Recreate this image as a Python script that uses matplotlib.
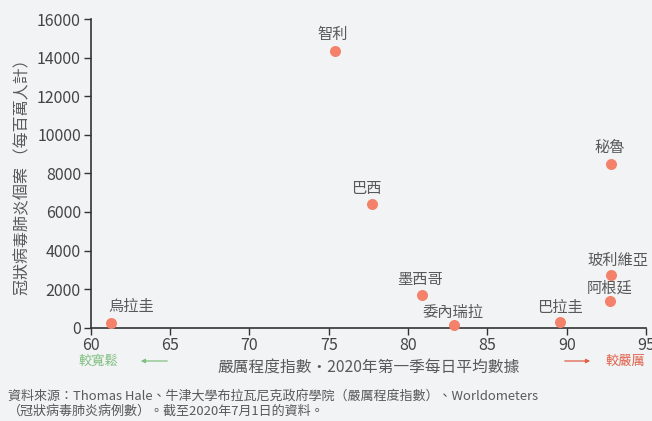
import matplotlib
matplotlib.use("Agg")
import matplotlib.pyplot as plt
from matplotlib.patches import FancyArrowPatch

plt.rcParams['font.family'] = ['Noto Sans CJK TC', 'DejaVu Sans']

# stringency index (Q1 2020 daily average) vs cases per million
countries = ['烏拉圭', '智利', '巴西', '墨西哥', '委內瑞拉', '巴拉圭', '玻利維亞', '阿根廷', '秘魯']
stringency = [61.3, 75.4, 77.7, 80.9, 82.9, 89.6, 92.8, 92.7, 92.8]
cases = [250, 14350, 6400, 1700, 150, 280, 2730, 1380, 8500]
# label offsets in pixels (dx, dy) from each dot
label_offsets = [(20, 16), (-2, 16), (-5, 16), (-2, 15), (-1, 12), (-1, 15), (7, 15), (0, 13), (-1, 16)]

x_ticks = [60, 65, 70, 75, 80, 85, 90, 95]
y_ticks = [0, 2000, 4000, 6000, 8000, 10000, 12000, 14000, 16000]

bg = '#f2f3f5'
dot_color = '#f4826a'
text_color = '#595959'
green = '#7fbf7f'
red = '#e0604a'

fig = plt.figure(figsize=(6.52, 4.21), dpi=100, facecolor=bg)
ax = fig.add_axes([0.139, 0.2216, 0.852, 0.733])
ax.set_facecolor(bg)

ax.scatter(stringency, cases, s=48, color=dot_color, zorder=3, clip_on=False)
for name, x, y, (dx, dy) in zip(countries, stringency, cases, label_offsets):
    ax.annotate(name, (x, y), xytext=(dx, dy), textcoords='offset pixels',
                ha='center', va='center', fontsize=11, color=text_color)

ax.set_xlim(60, 95)
ax.set_ylim(0, 16000)
ax.set_xticks(x_ticks)
ax.set_yticks(y_ticks)
for side in ['top', 'right']:
    ax.spines[side].set_visible(False)
for side in ['left', 'bottom']:
    ax.spines[side].set_color('#333333')
    ax.spines[side].set_linewidth(1.2)
ax.tick_params(length=5, width=1, color='#333333', labelsize=11.5,
               labelcolor='#444444', pad=2)

ax.set_ylabel('冠狀病毒肺炎個案 （每百萬人計）', fontsize=11.5, color=text_color, labelpad=4)
ax.set_xlabel('嚴厲程度指數・2020年第一季每日平均數據', fontsize=11.3, color=text_color, labelpad=4)

# direction hints under the x axis
fig.text(98 / 652, 1 - 361 / 421, '較寬鬆', fontsize=9.5, color=green, ha='center', va='center')
fig.text(625 / 652, 1 - 361 / 421, '較嚴厲', fontsize=9.5, color=red, ha='center', va='center')
fig.add_artist(FancyArrowPatch(
    (170 / 652, 1 - 361 / 421), (138 / 652, 1 - 361 / 421), transform=fig.transFigure,
    arrowstyle='-|>', mutation_scale=6, color=green, lw=0.9))
fig.add_artist(FancyArrowPatch(
    (562 / 652, 1 - 361 / 421), (593 / 652, 1 - 361 / 421), transform=fig.transFigure,
    arrowstyle='-|>', mutation_scale=6, color=red, lw=0.9))

fig.text(8 / 652, 1 - 396 / 421,
         '資料來源：Thomas Hale、牛津大學布拉瓦尼克政府學院（嚴厲程度指數）、Worldometers',
         fontsize=9.4, color=text_color, ha='left', va='center')
fig.text(8 / 652, 1 - 411 / 421, '（冠狀病毒肺炎病例數）。截至2020年7月1日的資料。',
         fontsize=9.4, color=text_color, ha='left', va='center')

fig.savefig('out.png', dpi=100, facecolor=bg)
